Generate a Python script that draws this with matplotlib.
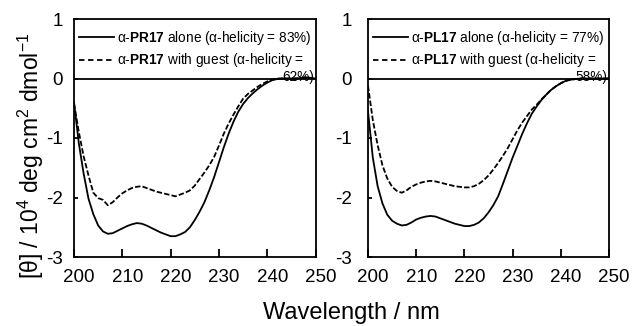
import matplotlib
matplotlib.use("Agg")
import matplotlib.pyplot as plt
from matplotlib.transforms import ScaledTranslation

plt.rcParams['font.family'] = ['Liberation Sans', 'DejaVu Sans']
plt.rcParams['mathtext.fontset'] = 'custom'
plt.rcParams['mathtext.rm'] = 'Liberation Sans'
plt.rcParams['mathtext.bf'] = 'Liberation Sans:bold'
plt.rcParams['mathtext.it'] = 'Liberation Sans:italic'
plt.rcParams['axes.unicode_minus'] = False

wavelength = list(range(200, 251))

pr17_alone = [-0.40, -1.09, -1.60, -2.02, -2.28, -2.47, -2.57, -2.61, -2.60, -2.56,
              -2.52, -2.48, -2.45, -2.43, -2.44, -2.47, -2.51, -2.55, -2.59, -2.62,
              -2.65, -2.65, -2.62, -2.58, -2.50, -2.38, -2.24, -2.08, -1.88, -1.66,
              -1.41, -1.16, -0.93, -0.73, -0.56, -0.43, -0.33, -0.25, -0.18, -0.12,
              -0.07, -0.03, -0.01, 0.0, 0.0, 0.0, 0.0, 0.01, 0.02, 0.01, 0.0]
pr17_guest = [-0.42, -0.90, -1.31, -1.63, -1.92, -2.01, -2.04, -2.13, -2.08, -2.00,
              -1.93, -1.88, -1.84, -1.82, -1.81, -1.84, -1.87, -1.90, -1.92, -1.94,
              -1.96, -1.98, -1.95, -1.92, -1.88, -1.80, -1.69, -1.58, -1.46, -1.32,
              -1.13, -0.93, -0.76, -0.61, -0.47, -0.34, -0.26, -0.20, -0.14, -0.09,
              -0.05, -0.02, 0.0, 0.0, 0.0, 0.0, 0.0, 0.01, 0.02, 0.01, 0.0]
pl17_alone = [-0.55, -1.33, -1.81, -2.10, -2.29, -2.39, -2.44, -2.47, -2.46, -2.42,
              -2.37, -2.34, -2.32, -2.31, -2.32, -2.35, -2.38, -2.41, -2.44, -2.46,
              -2.48, -2.48, -2.46, -2.42, -2.35, -2.25, -2.13, -1.98, -1.77, -1.55,
              -1.33, -1.13, -0.93, -0.75, -0.59, -0.47, -0.36, -0.27, -0.19, -0.13,
              -0.08, -0.04, -0.02, -0.01, 0.0, 0.0, 0.0, 0.0, 0.0, 0.0, 0.0]
pl17_guest = [-0.12, -0.70, -1.12, -1.46, -1.68, -1.82, -1.89, -1.92, -1.88, -1.82,
              -1.78, -1.75, -1.73, -1.72, -1.73, -1.75, -1.77, -1.79, -1.81, -1.82,
              -1.83, -1.83, -1.81, -1.77, -1.71, -1.63, -1.53, -1.42, -1.30, -1.17,
              -1.02, -0.87, -0.74, -0.63, -0.52, -0.44, -0.35, -0.27, -0.19, -0.13,
              -0.08, -0.04, -0.02, -0.01, 0.0, 0.0, 0.0, 0.0, 0.0, 0.0, 0.0]

xticks = [200, 210, 220, 230, 240, 250]
yticks = [-3, -2, -1, 0, 1]

panels = [
    dict(name='PR17', alone=pr17_alone, guest=pr17_guest, a_pct='83%', g_pct='62%',
         rect=[74/632, 69/326, 241.5/632, 238/326], ypad=8),
    dict(name='PL17', alone=pl17_alone, guest=pl17_guest, a_pct='77%', g_pct='58%',
         rect=[368/632, 69/326, 241/632, 238/326], ypad=11.5),
]

fig = plt.figure(figsize=(6.32, 3.26), dpi=100)
lw = 1.3
for p in panels:
    ax = fig.add_axes(p['rect'])
    l1, = ax.plot(wavelength, p['alone'], color='black', lw=lw, solid_joinstyle='round')
    l2, = ax.plot(wavelength, p['guest'], color='black', lw=lw, ls=(0, (3, 1.2)))
    ax.axhline(0, color='black', lw=lw)
    ax.set_xlim(200, 250)
    ax.set_ylim(-3, 1)
    ax.set_xticks(xticks)
    ax.set_yticks(yticks)
    ax.tick_params(axis='x', direction='in', length=6, width=lw, labelsize=13.5, pad=9)
    ax.tick_params(axis='y', direction='in', length=3, width=lw, labelsize=13.5, pad=p['ypad'])
    for s in ax.spines.values():
        s.set_linewidth(lw)
    off = ScaledTranslation(5/100, 0, fig.dpi_scale_trans)
    for lab in ax.get_xticklabels():
        lab.set_transform(lab.get_transform() + off)
    h_guest, = ax.plot([], [], color='black', lw=lw, ls=(0, (3, 2)))
    ax.legend([l1, h_guest],
              ['α-$\\mathbf{%s}$ alone (α-helicity = %s)' % (p['name'], p['a_pct']),
               'α-$\\mathbf{%s}$ with guest (α-helicity =' % p['name']],
              loc='upper left', bbox_to_anchor=(0.021, 0.958), frameon=False,
              fontsize=9.8, handlelength=2.57, handletextpad=0.22, labelspacing=0.32,
              borderaxespad=0.0, borderpad=0.0)
    ax.text(249.7, -0.04, p['g_pct'] + ')', fontsize=9.8, ha='right', va='baseline')

fig.text(31/632, 1 - 156/326, '[θ] / 10$^4$ deg cm$^2$ dmol$^{-1}$', rotation=90,
         ha='center', va='center', fontsize=16.5)
fig.text(351/632, 7/326, 'Wavelength / nm', ha='center', va='baseline', fontsize=17)

fig.savefig('out.png', dpi=100)
